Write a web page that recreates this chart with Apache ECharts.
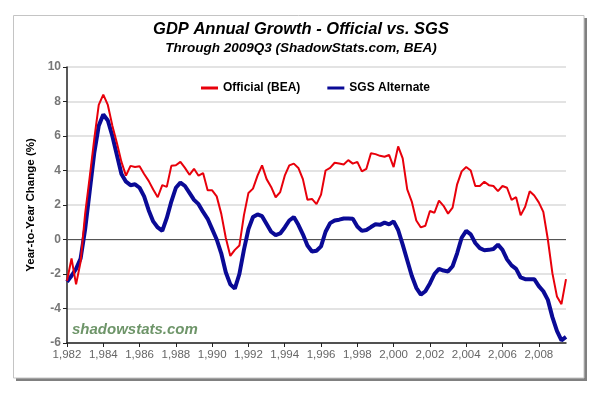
<!DOCTYPE html>
<html>
<head>
<meta charset="utf-8">
<script src="https://cdn.jsdelivr.net/npm/echarts@6/dist/echarts.min.js"></script>
<style>
html,body{margin:0;padding:0;background:#fff;}
#chart{width:602px;height:393px;}
</style>
</head>
<body>
<div id="chart"></div>
<script>
// Quarterly data, 1982Q1 .. 2009Q3
const startYear = 1982;
const official = [
  -2.4, -1.1, -2.6, -1.3,
  1.5, 3.6, 5.8, 7.8,
  8.4, 7.8, 6.6, 5.6,
  4.5, 3.7, 4.27, 4.2,
  4.25, 3.8, 3.4, 2.9,
  2.45, 3.15, 3.05, 4.27,
  4.3, 4.5, 4.15, 3.75,
  4.1, 3.7, 3.85, 2.85,
  2.85, 2.5, 1.5, 0.1,
  -0.95, -0.6, -0.35, 1.4,
  2.7, 2.95, 3.7, 4.3,
  3.5, 3.05, 2.45, 2.75,
  3.7, 4.3, 4.4, 4.15,
  3.5, 2.3, 2.35, 2.05,
  2.6, 4.0, 4.15, 4.45,
  4.4, 4.35, 4.6, 4.4,
  4.5, 3.95, 4.1, 5.0,
  4.95, 4.85, 4.8, 4.9,
  4.2, 5.4, 4.7, 2.9,
  2.2, 1.1, 0.7, 0.8,
  1.65, 1.55, 2.25, 1.95,
  1.5, 1.85, 3.2, 3.95,
  4.2, 4.0, 3.1, 3.1,
  3.35, 3.15, 3.1, 2.8,
  3.1, 3.0, 2.3, 2.45,
  1.4, 1.9, 2.8, 2.55,
  2.15, 1.6, 0.0, -1.95,
  -3.3, -3.75, -2.3
];
const sgs = [
  -2.45, -2.1, -1.7, -1.1,
  0.6, 2.8, 5.0, 6.6,
  7.25, 6.9, 6.0, 4.9,
  3.8, 3.35, 3.15, 3.2,
  3.0, 2.5, 1.7, 1.05,
  0.7, 0.5, 1.25, 2.2,
  3.0, 3.3, 3.1, 2.7,
  2.3, 2.05, 1.6, 1.2,
  0.6, 0.0, -0.8, -1.9,
  -2.6, -2.85, -2.0, -0.6,
  0.6, 1.3, 1.45, 1.35,
  0.9, 0.45, 0.25, 0.35,
  0.7, 1.1, 1.3, 0.85,
  0.3, -0.35, -0.7, -0.65,
  -0.4, 0.45, 0.95, 1.1,
  1.15, 1.22, 1.22, 1.2,
  0.75, 0.5, 0.55, 0.72,
  0.88, 0.85, 0.98, 0.88,
  1.05, 0.55, -0.3, -1.2,
  -2.1, -2.8, -3.2, -3.0,
  -2.55, -2.0, -1.7, -1.8,
  -1.85, -1.55, -0.8, 0.1,
  0.5, 0.3, -0.2, -0.5,
  -0.62, -0.6, -0.55, -0.3,
  -0.6, -1.15, -1.5, -1.7,
  -2.2, -2.3, -2.3, -2.3,
  -2.7, -3.0, -3.5, -4.5,
  -5.3, -5.85, -5.65
];
const xTickLabels = [1982,1984,1986,1988,1990,1992,1994,1996,1998,2000,2002,2004,2006,2008];
const yTickLabels = [-6,-4,-2,0,2,4,6,8,10];
const seriesNames = ['Official (BEA)', 'SGS Alternate'];

const toPairs = arr => arr.map((v, i) => [startYear + i * 0.25, v]);
const FONT = "'Liberation Sans', Arial, sans-serif";

const chart = echarts.init(document.getElementById('chart'), null, {renderer: 'canvas'});
chart.setOption({
  backgroundColor: '#fff',
  animation: false,
  graphic: [
    {type: 'rect', z: -20, silent: true, shape: {x: 16, y: 18, width: 571, height: 363}, style: {fill: '#808080'}},
    {type: 'rect', z: -10, silent: true, shape: {x: 13.5, y: 15.5, width: 570.5, height: 362.5}, style: {fill: '#fff', stroke: '#c4c4c4', lineWidth: 1}},
    {type: 'text', z: 5, silent: true, left: 72, top: 322,
      style: {text: 'shadowstats.com', font: "italic bold 15px " + FONT, fill: '#6e9569'}}
  ],
  title: {
    text: 'GDP Annual Growth - Official vs. SGS',
    subtext: 'Through 2009Q3 (ShadowStats.com, BEA)',
    left: 'center',
    top: 16,
    itemGap: 3,
    textStyle: {fontFamily: FONT, fontSize: 16.5, fontWeight: 'bold', fontStyle: 'italic', color: '#000'},
    subtextStyle: {fontFamily: FONT, fontSize: 13.5, fontWeight: 'bold', fontStyle: 'italic', color: '#000'}
  },
  legend: {
    data: seriesNames,
    left: 196,
    top: 77,
    icon: 'rect',
    itemWidth: 17,
    itemHeight: 3,
    itemGap: 27,
    textStyle: {fontFamily: FONT, fontSize: 12, fontWeight: 'bold', color: '#000'}
  },
  grid: {left: 67, right: 36, top: 67, bottom: 50, containLabel: false},
  xAxis: {
    type: 'value',
    min: 1982,
    max: 2009.5,
    interval: 2,
    splitLine: {show: false},
    axisLine: {show: true, onZero: false, lineStyle: {color: '#222', width: 1.5}},
    axisTick: {show: true, length: 4, customValues: xTickLabels, lineStyle: {color: '#222', width: 1}},
    axisLabel: {customValues: xTickLabels, fontFamily: FONT, fontSize: 11.5, color: '#666', margin: 6}
  },
  yAxis: {
    type: 'value',
    min: -6,
    max: 10,
    interval: 2,
    name: 'Year-to-Year Change (%)',
    nameLocation: 'middle',
    nameGap: 28,
    nameRotate: 90,
    nameTextStyle: {fontFamily: FONT, fontSize: 11.5, fontWeight: 'bold', color: '#000'},
    axisLine: {show: true, lineStyle: {color: '#222', width: 1.5}},
    axisTick: {show: true, length: 4, lineStyle: {color: '#222', width: 1}},
    axisLabel: {fontFamily: FONT, fontSize: 12, fontWeight: 'bold', color: '#777', margin: 6},
    splitLine: {show: true, lineStyle: {color: '#e3e3e3', width: 2}}
  },
  series: [
    {
      name: seriesNames[0],
      type: 'line',
      data: toPairs(official),
      showSymbol: false,
      symbol: 'none',
      z: 4,
      color: '#e8000b',
      lineStyle: {color: '#e8000b', width: 2},
      markLine: {
        silent: true,
        symbol: ['none', 'none'],
        label: {show: false},
        lineStyle: {color: '#555', width: 1, type: 'solid'},
        data: [{yAxis: 0}],
        z: 1
      }
    },
    {
      name: seriesNames[1],
      type: 'line',
      data: toPairs(sgs),
      showSymbol: false,
      symbol: 'none',
      z: 3,
      color: '#0a0a96',
      lineStyle: {color: '#0a0a96', width: 4}
    }
  ]
});
</script>
</body>
</html>
